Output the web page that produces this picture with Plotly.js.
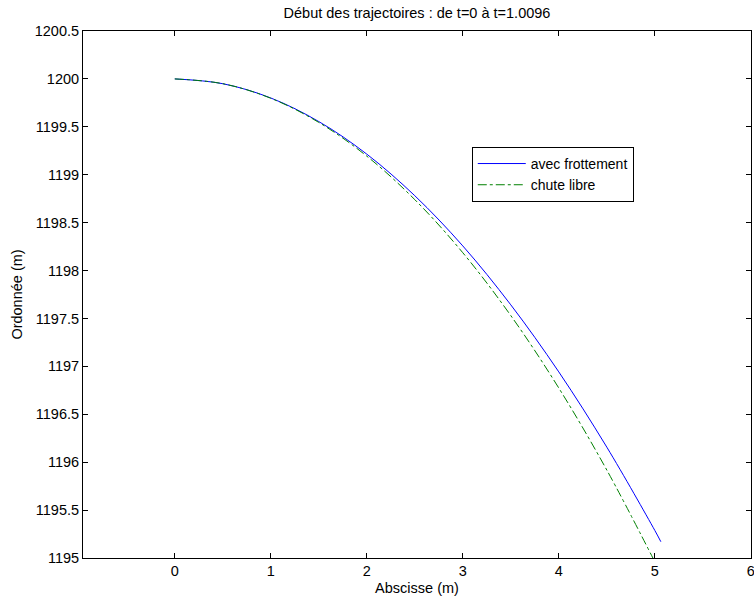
<!DOCTYPE html>
<html>
<head>
<meta charset="utf-8">
<script src="https://cdn.plot.ly/plotly-3.0.1.min.js"></script>
<style>html,body{margin:0;padding:0;background:#fff;}#chart{width:754px;height:602px;}</style>
</head>
<body>
<div id="chart"></div>
<script>
// Values
var xFrottement = [0, 0.5, 1, 1.5, 2, 2.5, 3, 3.5, 4, 4.5, 5, 5.063];
var yFrottement = [1200, 1199.950, 1199.801, 1199.555, 1199.215, 1198.781, 1198.257, 1197.642, 1196.942, 1196.157, 1195.288, 1195.17];
var xChute = [0, 0.5, 1, 1.5, 2, 2.5, 3, 3.5, 4, 4.5, 4.98];
var yChute = [1200, 1199.950, 1199.798, 1199.546, 1199.194, 1198.740, 1198.186, 1197.530, 1196.774, 1195.918, 1195.0];
var xTicks = [0, 1, 2, 3, 4, 5, 6];
var yTicks = [1195, 1195.5, 1196, 1196.5, 1197, 1197.5, 1198, 1198.5, 1199, 1199.5, 1200, 1200.5];
var yTickText = ['1195', '1195.5', '1196', '1196.5', '1197', '1197.5', '1198', '1198.5', '1199', '1199.5', '1200', '1200.5'];

var font = {family: 'Liberation Sans, Arial, sans-serif', size: 14.5, color: '#000'};

var traces = [
  {x: xFrottement, y: yFrottement, type: 'scatter', mode: 'lines', name: 'avec frottement',
   line: {color: '#0000ff', width: 1, shape: 'spline'}},
  {x: xChute, y: yChute, type: 'scatter', mode: 'lines', name: 'chute libre',
   line: {color: '#008000', width: 1, dash: 'dashdot', shape: 'spline'}}
];

var axisCommon = {
  showgrid: false, zeroline: false, showline: true, linecolor: '#000', linewidth: 1,
  mirror: 'ticks', ticks: 'inside', ticklen: 5, tickcolor: '#000', tickwidth: 1,
  tickfont: font, ticklabeloverflow: 'allow'
};

var layout = {
  width: 754, height: 602,
  margin: {l: 83, r: 3, t: 31, b: 44},
  paper_bgcolor: '#fff', plot_bgcolor: '#fff',
  font: font,
  showlegend: true,
  title: {text: 'Début des trajectoires : de t=0 à t=1.0096', font: font,
          x: 0.5, xref: 'paper', xanchor: 'center', y: 0.978, yref: 'container', yanchor: 'middle'},
  xaxis: Object.assign({}, axisCommon, {
    range: [-0.956, 6.002], tickvals: xTicks, ticktext: xTicks.map(String),
    title: {text: 'Abscisse (m)', font: font, standoff: 4}
  }),
  yaxis: Object.assign({}, axisCommon, {
    range: [1195, 1200.5], tickvals: yTicks, ticktext: yTickText,
    title: {text: 'Ordonnée (m)', font: font, standoff: 8}
  }),
  legend: {x: 0.582, y: 0.780, xanchor: 'left', yanchor: 'top', bgcolor: '#fff',
           bordercolor: '#000', borderwidth: 1, font: {family: font.family, size: 14, color: '#000'},
           tracegroupgap: 0, itemwidth: 48}
};

Plotly.newPlot('chart', traces, layout, {displayModeBar: false, staticPlot: true});
</script>
</body>
</html>
